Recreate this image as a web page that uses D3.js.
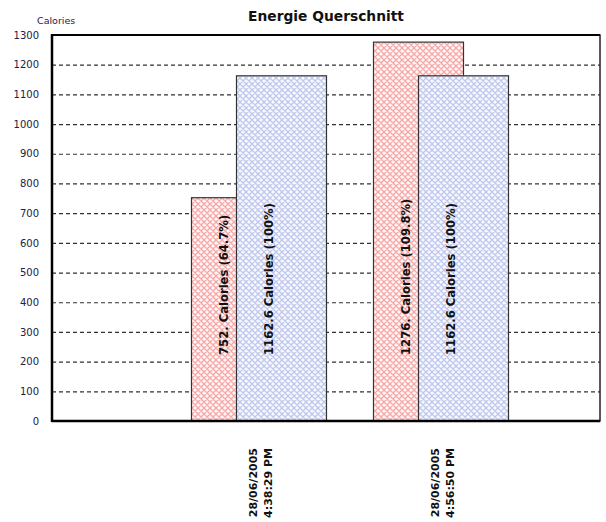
<!DOCTYPE html>
<html>
<head>
<meta charset="utf-8">
<script src="https://cdn.jsdelivr.net/npm/d3@7"></script>
<style>
  html, body { margin: 0; padding: 0; background: #fff; }
  svg { display: block; }
</style>
</head>
<body>
<script>
// Energy cross-section: measured intake vs. reference value, per session
const categories = ["28/06/2005\n4:38:29 PM", "28/06/2005\n4:56:50 PM"];
const seriesNames = ["Ist", "Soll"];
const actualValues = [752, 1276];
const targetValues = [1162.6, 1162.6];
const barLabels = [
  ["752. Calories (64.7%)", "1162.6 Calories (100%)"],
  ["1276. Calories (109.8%)", "1162.6 Calories (100%)"]
];
const yTicks = [0, 100, 200, 300, 400, 500, 600, 700, 800, 900, 1000, 1100, 1200, 1300];

const W = 606, H = 522;
const plot = { left: 52, right: 600, top: 35, bottom: 421 };
const FONT = "'DejaVu Sans', Verdana, sans-serif";

const svg = d3.select("body").append("svg").attr("width", W).attr("height", H);

// crosshatch fills
const defs = svg.append("defs");
function hatch(id, bg, line) {
  const s = 6;
  const p = defs.append("pattern").attr("id", id)
    .attr("patternUnits", "userSpaceOnUse").attr("width", s).attr("height", s);
  p.append("rect").attr("width", s).attr("height", s).attr("fill", bg);
  p.append("path")
    .attr("d", `M0,0 L${s},${s} M${s},0 L0,${s} M-1,${s - 1} L1,${s + 1} M${s - 1},-1 L${s + 1},1 M-1,1 L1,-1 M${s - 1},${s + 1} L${s + 1},${s - 1}`)
    .attr("stroke", line).attr("stroke-width", 1.3).attr("fill", "none");
}
hatch("hatchRed", "#fff6f6", "#f5a8a8");
hatch("hatchBlue", "#f8f9fd", "#bfc8ec");
const fills = ["url(#hatchRed)", "url(#hatchBlue)"];

const y = d3.scaleLinear().domain([0, 1300]).range([plot.bottom, plot.top]);
const step = 182;
const x = d3.scaleBand().domain(categories)
  .range([259 - step / 2, 259 - step / 2 + step * categories.length]).padding(0);
const barW = 90, barShift = 45;

// title
svg.append("text").attr("x", 326).attr("y", 21).attr("text-anchor", "middle")
  .attr("font-family", FONT).attr("font-weight", "bold").attr("font-size", 13.8)
  .attr("fill", "#111").text("Energie Querschnitt");
svg.append("text").attr("x", 37).attr("y", 24)
  .attr("font-family", FONT).attr("font-size", 9.5).attr("fill", "#222244").text("Calories");

// y axis tick labels
const yAxis = d3.axisLeft(y).tickValues(yTicks).tickSize(0).tickPadding(13).tickFormat(d3.format("d"));
const ya = svg.append("g").attr("transform", `translate(${plot.left},0)`).call(yAxis);
ya.select(".domain").remove();
ya.selectAll("text").attr("font-family", FONT).attr("font-size", 10).attr("fill", "#222244");

// dashed gridlines
const grid = d3.axisLeft(y).tickValues(yTicks.filter(d => d > 0))
  .tickSize(-(plot.right - plot.left)).tickFormat("");
const gg = svg.append("g").attr("transform", `translate(${plot.left},0)`).call(grid);
gg.select(".domain").remove();
gg.selectAll("line").attr("stroke", "#333").attr("stroke-width", 1.2).attr("stroke-dasharray", "4,3");

// bars
const data = categories.map((c, i) => ({ cat: c, vals: [actualValues[i], targetValues[i]], labels: barLabels[i] }));
const groups = svg.append("g").selectAll("g").data(data).join("g");
groups.each(function (d) {
  const g = d3.select(this);
  const cx = x(d.cat) + x.bandwidth() / 2;
  const left = cx - (barW + barShift) / 2;
  d.vals.forEach((v, k) => {
    const bx = left + k * barShift;
    g.append("rect").attr("x", bx).attr("y", y(v)).attr("width", barW)
      .attr("height", y(0) - y(v)).attr("fill", fills[k])
      .attr("stroke", "#333").attr("stroke-width", 1.2);
  });
  d.vals.forEach((v, k) => {
    const bx = left + k * barShift;
    const tx = bx + barW / 2 - 9;
    const ty = y(0) - 66;
    g.append("text").attr("transform", `translate(${tx},${ty}) rotate(-90)`)
      .attr("text-anchor", "start").attr("font-family", FONT).attr("font-weight", "bold")
      .attr("font-size", 11.6).attr("fill", "#111").text(d.labels[k]);
  });
});

// plot frame
svg.append("rect").attr("x", plot.left).attr("y", plot.top)
  .attr("width", plot.right - plot.left).attr("height", plot.bottom - plot.top)
  .attr("fill", "none").attr("stroke", "#222").attr("stroke-width", 1.5);
svg.append("line").attr("x1", plot.left).attr("x2", plot.left).attr("y1", plot.top - 1).attr("y2", plot.bottom + 1)
  .attr("stroke", "#000").attr("stroke-width", 2.5);
svg.append("line").attr("x1", plot.left).attr("x2", plot.right).attr("y1", plot.bottom).attr("y2", plot.bottom)
  .attr("stroke", "#000").attr("stroke-width", 2.5);
svg.append("line").attr("x1", plot.left).attr("x2", plot.right).attr("y1", plot.top).attr("y2", plot.top)
  .attr("stroke", "#000").attr("stroke-width", 2);

// category labels, rotated
const xAxis = d3.axisBottom(x).tickSize(0).tickFormat("");
svg.append("g").attr("transform", `translate(0,${plot.bottom})`).call(xAxis).select(".domain").remove();
categories.forEach(c => {
  const cx = x(c) + x.bandwidth() / 2;
  const lines = c.split("\n");
  lines.forEach((ln, j) => {
    svg.append("text").attr("transform", `translate(${cx - 2 + j * 15},448) rotate(-90)`)
      .attr("text-anchor", "end").attr("font-family", FONT).attr("font-weight", "bold")
      .attr("font-size", 11).attr("fill", "#111").text(ln);
  });
});
</script>
</body>
</html>
